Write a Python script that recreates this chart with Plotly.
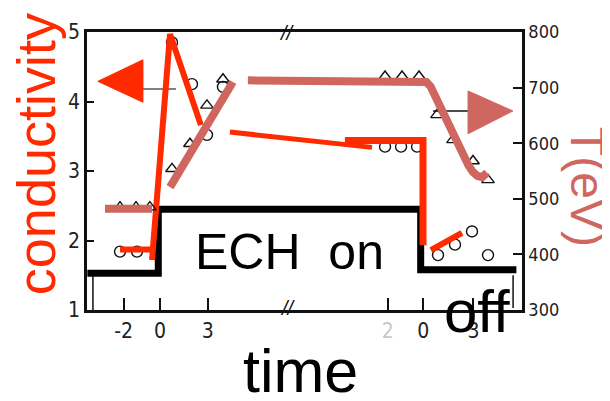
import plotly.graph_objects as go

# ---------------- data (time axis: left segment t, right segment t+16) ----------------
# ECH waveform (step)
ech_time = [-4.4, -0.1, 15.8, 21.6]
ech_level = [1.53, 2.45, 1.58, 1.58]

# original scanned data points
circ_time = [-2.42, -1.39, 0.73, 1.94, 2.85, 3.82, 13.64, 14.61, 15.58, 16.85, 17.88, 18.91, 19.88]
circ_cond = [1.84, 1.84, 4.85, 4.25, 3.52, 4.21, 3.35, 3.35, 3.35, 1.79, 1.94, 2.13, 1.79]

tri_time = [-2.42, -1.45, -0.61, 0.73, 1.82, 2.85, 3.82, 13.64, 14.67, 15.70, 16.79, 17.76, 18.97, 19.88]
tri_temp = [485, 485, 485, 554, 599, 668, 715, 720, 720, 720, 651, 606, 568, 534]

# red (conductivity) hand-drawn trend
red_a_t = [-2.42, -0.48]
red_a_c = [1.87, 1.87]
red_b_t = [-0.48, 0.61, 2.48]
red_b_c = [1.72, 4.97, 3.66]
red_c_t = [4.24, 12.85]
red_c_c = [3.56, 3.34]
red_d_t = [11.21, 15.94, 15.94]
red_d_c = [3.44, 3.44, 1.93]
red_e_t = [16.42, 18.30]
red_e_c = [1.86, 2.11]

# rosy (temperature) hand-drawn trend
ros_a_t = [-3.33, -0.48]
ros_a_T = [482, 482]
ros_b_t = [0.61, 4.42]
ros_b_T = [521, 710]
ros_c_t = [5.33, 15.94, 16.15, 16.40, 17.27, 18.30, 18.70, 18.97, 19.25, 19.52, 19.82]
ros_c_T = [713, 713, 710, 702, 646, 582, 560, 548, 541, 539, 547]

# arrows
red_arrow_t = [-3.76, -1.03, -1.03, -3.76]
red_arrow_c = [4.29, 4.60, 3.99, 4.29]
red_shaft_t = [-1.03, 0.97]
red_shaft_c = [4.18, 4.18]
ros_arrow_t = [21.39, 18.67, 18.67, 21.39]
ros_arrow_T = [658, 694, 617, 658]
ros_shaft_t = [16.55, 18.67]
ros_shaft_T = [658, 658]

# thin original waveform edges
thin1_t = [-4.06, -4.06]
thin1_c = [1.53, 1.0]
thin2_t = [21.4, 21.4]
thin2_c = [1.50, 1.03]

# ticks
x_tickvals = [-2.2, 0, 2.9, 13.8, 15.95, 19.0]
x_ticktext = ["-2", "0", "3", "<span style='color:#c8c8c8'>2</span>", "0", "3"]
y_tickvals = [1, 2, 3, 4, 5]
y2_tickvals = [300, 400, 500, 600, 700, 800]

RED = "#ff2a00"
ROSY = "#cf6660"
INK = "#111111"

fig = go.Figure()

def line(x, y, color, width, axis="y", shape="linear"):
    fig.add_trace(go.Scatter(x=x, y=y, mode="lines", yaxis=axis,
                             line=dict(color=color, width=width, shape=shape),
                             hoverinfo="skip", showlegend=False))

# markers (original scan)
fig.add_trace(go.Scatter(x=circ_time, y=circ_cond, mode="markers",
                         marker=dict(symbol="circle-open", size=11, color=INK, line=dict(width=1.4)),
                         showlegend=False))
fig.add_trace(go.Scatter(x=tri_time, y=tri_temp, mode="markers", yaxis="y2",
                         marker=dict(symbol="triangle-up-open", size=11, color=INK, line=dict(width=1.4)),
                         showlegend=False))

line(thin1_t, thin1_c, INK, 1.5)
line(thin2_t, thin2_c, INK, 1.5)
line(red_shaft_t, red_shaft_c, "#555555", 1.5)
line(ros_shaft_t, ros_shaft_T, INK, 1.5, "y2")

# ECH step
line(ech_time, ech_level, "#000000", 7, shape="hv")

# red trend
line(red_a_t, red_a_c, RED, 6)
line(red_b_t, red_b_c, RED, 6)
line(red_c_t, red_c_c, RED, 5)
line(red_d_t, red_d_c, RED, 7)
line(red_e_t, red_e_c, RED, 6)

# rosy trend
line(ros_a_t, ros_a_T, ROSY, 8, "y2")
line(ros_b_t, ros_b_T, ROSY, 8, "y2")
line(ros_c_t, ros_c_T, ROSY, 8, "y2")

# arrows
fig.add_trace(go.Scatter(x=red_arrow_t, y=red_arrow_c, mode="lines", fill="toself",
                         fillcolor=RED, line=dict(color=RED, width=1), showlegend=False))
fig.add_trace(go.Scatter(x=ros_arrow_t, y=ros_arrow_T, mode="lines", fill="toself", yaxis="y2",
                         fillcolor=ROSY, line=dict(color=ROSY, width=1), showlegend=False))

TICKFONT = dict(family="Liberation Sans Narrow, DejaVu Sans Condensed, Liberation Sans, Arial", size=21, color="#222")

# page body margin is 8px: plot frame target at screen x 87..522, y 21..310
fig.update_layout(
    width=610, height=401, autosize=False,
    margin=dict(l=79, r=96, t=13, b=99, pad=0),
    paper_bgcolor="white", plot_bgcolor="white",
    xaxis=dict(range=[-4.42, 21.94], showgrid=False, zeroline=False,
               showline=True, linecolor=INK, linewidth=2.5, mirror=True,
               ticks="inside", ticklen=12, tickwidth=1.5, tickcolor=INK,
               tickvals=x_tickvals, ticktext=x_ticktext, tickfont=TICKFONT),
    yaxis=dict(range=[1, 5], showgrid=False, zeroline=False,
               showline=True, linecolor=INK, linewidth=2.5,
               ticks="inside", ticklen=7, tickwidth=1.5, tickcolor=INK,
               tickvals=y_tickvals, tickfont=TICKFONT),
    yaxis2=dict(range=[300, 800], overlaying="y", side="right", showgrid=False, zeroline=False,
                showline=True, linecolor=INK, linewidth=2.5,
                ticks="inside", ticklen=9, tickwidth=1.5, tickcolor=INK,
                tickvals=y2_tickvals, tickfont=dict(TICKFONT, size=18)),
)

def px_to_paper(px, py):
    return (px - 87) / 435.0, (310 - py) / 289.0

def text(s, px, py, size, color="#000", angle=0, family="Liberation Sans, Arial, Helvetica"):
    x, y = px_to_paper(px, py)
    fig.add_annotation(text=s, x=x, y=y, xref="paper", yref="paper", showarrow=False,
                       xanchor="center", yanchor="middle", textangle=angle,
                       font=dict(size=size, color=color, family=family))

text("ECH&nbsp;&nbsp;on", 289, 250, 50)
text("time", 300, 373, 61)
text("off", 477, 312, 60)
text("conductivity", 36, 148, 54, RED, -90)
text("T(eV)", 587, 182, 48, ROSY, 90)
text("<i>//</i>", 287, 22, 20, INK)
text("<i>//</i>", 288, 308, 20, INK)

fig.write_html("out.html")
